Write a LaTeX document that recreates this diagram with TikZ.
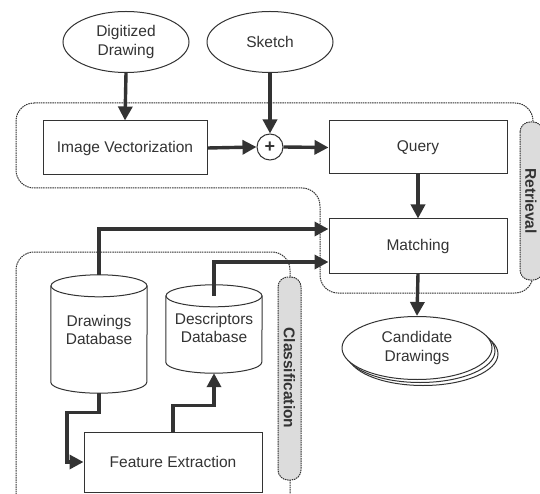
\documentclass[tikz,border=0pt]{standalone}
\usepackage{fontspec}
\setmainfont{Liberation Sans}
\usetikzlibrary{shapes.geometric,arrows.meta,calc}
\definecolor{ink}{HTML}{333333}
\definecolor{pill}{HTML}{DCDCDC}
\begin{document}
\begin{tikzpicture}[x=1pt,y=-1pt,
  every node/.style={font=\fontsize{15.5}{18.5}\selectfont, text=ink, align=center, inner sep=0pt},
  boxline/.style={draw=ink, line width=1pt},
  procbox/.style={boxline, rectangle, fill=white},
  ovalbox/.style={boxline, ellipse, fill=white},
  dbbody/.style={rectangle, minimum width=96pt},
  region/.style={draw=ink, line width=1pt, dash pattern=on 1.5pt off 0.8pt, rounded corners=18pt},
  tab/.style={draw=ink, fill=pill, line width=1pt, dash pattern=on 1.5pt off 0.8pt, rounded corners=10pt},
  flow/.style={draw=ink, line width=3.4pt, -{Triangle[length=14pt,width=14pt]}}
]
\useasboundingbox (0,0) rectangle (540,494);
% regions
\draw[region] (16,103) -- (533,103) -- (533,293) -- (320,293) -- (320,188) -- (16,188) -- cycle;
\draw[region] (16,520) -- (16,252) -- (290,252) -- (290,520);
\draw[tab] (520,122) rectangle (543,280);
\node[rotate=-90, font=\fontsize{15.5}{18}\selectfont\bfseries] (rlab) at (531,201) {Retrieval};
\draw[tab] (278,277) rectangle (301,480);
\node[rotate=-90, font=\fontsize{15.5}{18}\selectfont\bfseries] (clab) at (289.5,378) {Classification};
% nodes
\node[ovalbox, minimum width=126pt, minimum height=61pt] (dig) at (126,42) {Digitized\\Drawing};
\node[ovalbox, minimum width=126pt, minimum height=61pt] (sk) at (270,42) {Sketch};
\node[procbox, minimum width=164pt, minimum height=54pt] (iv) at (125,148) {Image Vectorization};
\node[boxline, circle, fill=white, minimum size=26pt, font=\fontsize{18}{18}\selectfont\bfseries] (plus) at (270,147) {+};
\node[procbox, minimum width=178pt, minimum height=53pt] (query) at (418,147.5) {Query};
\node[procbox, minimum width=178pt, minimum height=54pt] (match) at (418,246) {Matching};
\draw[boxline, fill=white] (423,354) ellipse [x radius=75pt, y radius=31.5pt];
\draw[boxline, fill=white] (420,351) ellipse [x radius=75pt, y radius=31.5pt];
\node[ovalbox, minimum width=150pt, minimum height=63pt] (cand) at (417,348) {Candidate\\Drawings};
% cylinders
\node[dbbody, minimum height=118pt] (ddb) at (99,334) {};
\draw[boxline, fill=white] ([yshift=-11pt]ddb.north west) -- ([yshift=11pt]ddb.south west)
  arc[start angle=180, end angle=360, x radius=48pt, y radius=11pt] -- ([yshift=-11pt]ddb.north east);
\draw[boxline, fill=white] ([yshift=-11pt]ddb.north) ellipse [x radius=48pt, y radius=11pt];
\node at ([yshift=4pt]ddb.center) {Drawings\\Database};
\node[dbbody, minimum height=88pt] (desc) at (214,329) {};
\draw[boxline, fill=white] ([yshift=-11pt]desc.north west) -- ([yshift=11pt]desc.south west)
  arc[start angle=180, end angle=360, x radius=48pt, y radius=11pt] -- ([yshift=-11pt]desc.north east);
\draw[boxline, fill=white] ([yshift=-11pt]desc.north) ellipse [x radius=48pt, y radius=11pt];
\node at ([yshift=1pt]desc.center) {Descriptors\\Database};
\node[procbox, minimum width=178pt, minimum height=60pt] (fe) at (173,462) {Feature Extraction};
% connectors
\draw[flow] (dig.south) -- (iv.north);
\draw[flow] (sk.south) -- (plus.north);
\draw[flow] (iv.east) -- (plus.west);
\draw[flow] (plus.east) -- (query.west);
\draw[flow] (query.south) -- (match.north);
\draw[flow] (match.south) -- (cand.north);
\draw[flow] (ddb.north) |- ([yshift=17pt]match.west);
\draw[flow] ([yshift=-11pt]desc.north) |- ([yshift=-16pt]match.west);
\draw[flow] (ddb.south) -- ++(0,19) -- ++(-32,0) |- (fe.west);
\draw[flow] (fe.north) -- ++(0,-26) -| (desc.south);
\end{tikzpicture}
\end{document}
